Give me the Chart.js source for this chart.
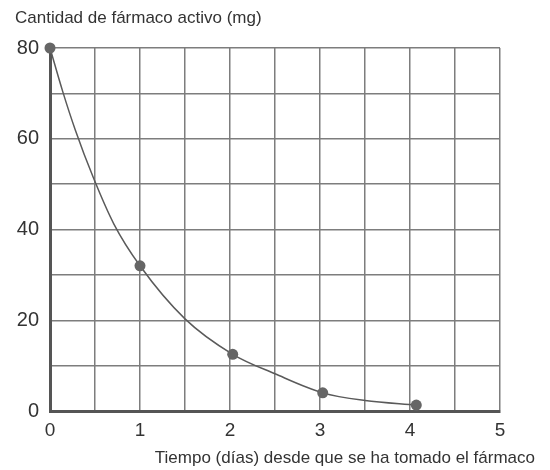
<!DOCTYPE html>
<html lang="es">
<head>
    <meta charset="UTF-8">
    <title>Cantidad de fármaco activo</title>
    <script src="https://cdn.jsdelivr.net/npm/chart.js"></script>
    <style>
        body { margin: 0; background: #fff; }
        #wrap { width: 550px; height: 470px; }
    </style>
</head>
<body>
<div id="wrap"><canvas id="farmacoChart"></canvas></div>
<script>
    // puntos marcados
    const diasPuntos = [0, 1, 2.03, 3.03, 4.07];
    const mgPuntos = [80, 32, 12.5, 4, 1.3];
    // curva
    const diasCurva = [0, 0.14, 0.28, 0.48, 0.71, 1, 1.5, 2.03, 2.5, 3.03, 3.5, 4.07];
    const mgCurva = [80, 70.5, 62, 51.5, 41.2, 32, 20.3, 12.5, 8.2, 4, 2.3, 1.3];

    const textColor = '#333';
    const gridColor = '#7d7d7d';
    const fuente = "'Liberation Sans', Arial, sans-serif";

    const ctx = document.getElementById('farmacoChart').getContext('2d');
    new Chart(ctx, {
        type: 'scatter',
        data: {
            datasets: [
                {
                    data: diasPuntos.map((d, i) => ({ x: d, y: mgPuntos[i] })),
                    pointRadius: 5.5,
                    pointBackgroundColor: '#666',
                    pointBorderWidth: 0,
                    clip: false
                },
                {
                    data: diasCurva.map((d, i) => ({ x: d, y: mgCurva[i] })),
                    showLine: true,
                    borderColor: '#5a5a5a',
                    borderWidth: 1.5,
                    pointRadius: 0,
                    cubicInterpolationMode: 'monotone',
                    clip: false
                }
            ]
        },
        options: {
            responsive: true,
            maintainAspectRatio: false,
            animation: false,
            layout: { padding: { left: 15, right: 15, top: 0, bottom: 0 } },
            plugins: {
                legend: { display: false },
                tooltip: { enabled: false },
                title: {
                    display: true,
                    text: 'Cantidad de fármaco activo (mg)',
                    align: 'start',
                    color: textColor,
                    font: { family: fuente, size: 17, weight: 'normal' },
                    padding: { top: 8, bottom: 19.6 }
                },
                subtitle: {
                    display: true,
                    position: 'bottom',
                    text: 'Tiempo (días) desde que se ha tomado el fármaco',
                    align: 'end',
                    color: textColor,
                    font: { family: fuente, size: 17 },
                    padding: { top: 0, bottom: 1 }
                }
            },
            scales: {
                x: {
                    type: 'linear',
                    min: 0,
                    max: 5,
                    afterFit: s => { s.height = 37.6; },
                    grid: { color: gridColor, lineWidth: 1.5, drawTicks: false },
                    border: { color: '#555', width: 3 },
                    ticks: {
                        stepSize: 0.5,
                        padding: 8,
                        color: textColor,
                        font: { family: fuente, size: 19 },
                        callback: v => Number.isInteger(v) ? v : ''
                    }
                },
                y: {
                    min: 0,
                    max: 80,
                    afterFit: s => { s.width = 35; },
                    grid: { color: gridColor, lineWidth: 1.5, drawTicks: false },
                    border: { color: '#555', width: 3 },
                    ticks: {
                        stepSize: 10,
                        padding: 11,
                        color: textColor,
                        font: { family: fuente, size: 20 },
                        callback: v => v % 20 === 0 ? v : ''
                    }
                },
                y2: {
                    position: 'right',
                    display: true,
                    afterFit: s => { s.width = 35; },
                    grid: { drawOnChartArea: false, drawTicks: false },
                    border: { display: false },
                    ticks: { display: false }
                }
            }
        }
    });
</script>
</body>
</html>
